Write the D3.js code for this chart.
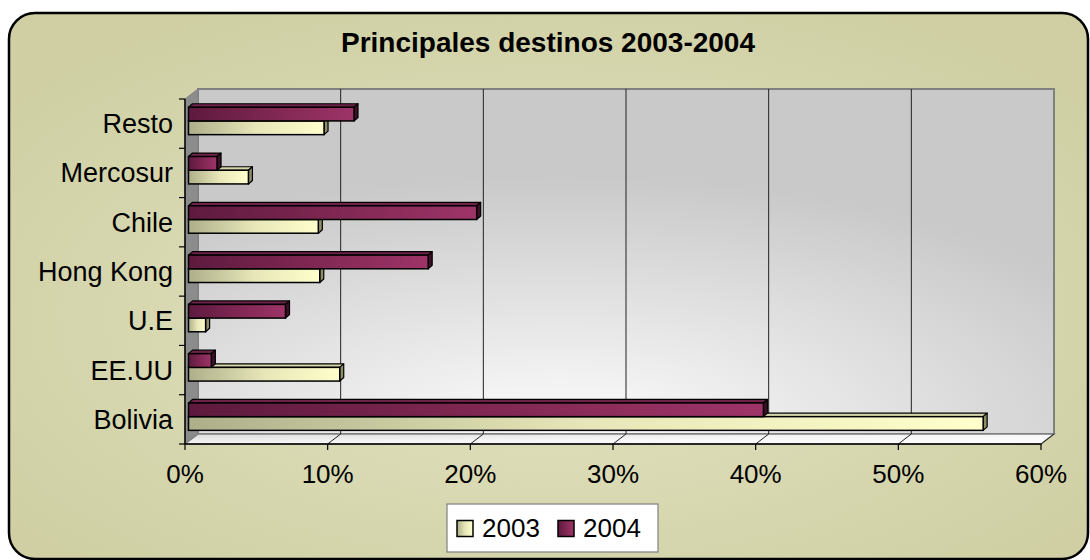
<!DOCTYPE html>
<html>
<head>
<meta charset="utf-8">
<script src="https://cdnjs.cloudflare.com/ajax/libs/d3/7.8.5/d3.min.js"></script>
<style>
  body { margin: 0; background: #fff; }
  svg { display: block; font-family: Arial, "Liberation Sans", sans-serif; }
</style>
</head>
<body>
<svg width="1090" height="560"></svg>
<script>
// data, top to bottom as in the chart
var categories = ['Resto', 'Mercosur', 'Chile', 'Hong Kong', 'U.E', 'EE.UU', 'Bolivia'];
var series = ['2003', '2004'];
var values2003 = [0.095, 0.042, 0.091, 0.092, 0.012, 0.106, 0.557];
var values2004 = [0.116, 0.020, 0.202, 0.168, 0.068, 0.016, 0.403];
var xTicks = [0, 0.1, 0.2, 0.3, 0.4, 0.5, 0.6];

var svg = d3.select('svg');
var defs = svg.append('defs');

// 3d frame geometry
var front = { left: 185, top: 99, bottom: 444, right: 1041 };
var depth = { dx: 13, dy: -10 };
var barOff = { dx: 3.5, dy: -2.7 };
var barDepth = { dx: 4, dy: -3.5 };

var xFront = d3.scaleLinear().domain([0, 0.6]).range([front.left, front.right]);
var xBack = d3.scaleLinear().domain([0, 0.6]).range([front.left + depth.dx, front.right + depth.dx]);
var xBar = d3.scaleLinear().domain([0, 0.6]).range([front.left + barOff.dx, front.right + barOff.dx]);

var y = d3.scaleBand().domain(categories).range([front.top, front.bottom])
  .paddingInner(0.444).paddingOuter(0.222);
var yInner = d3.scaleBand().domain(['2004', '2003']).range([0, y.bandwidth()]);
var step = y.step();

// gradients
function linGrad(id, stops, x2, y2) {
  var g = defs.append('linearGradient').attr('id', id)
    .attr('x1', 0).attr('y1', 0).attr('x2', x2 || 1).attr('y2', y2 || 0);
  stops.forEach(function(s) {
    g.append('stop').attr('offset', s[0]).attr('stop-color', s[1]);
  });
}
var bg = defs.append('radialGradient').attr('id', 'bg')
  .attr('cx', '50%').attr('cy', '55%').attr('r', '65%');
bg.append('stop').attr('offset', 0).attr('stop-color', '#e3e3c3');
bg.append('stop').attr('offset', 1).attr('stop-color', '#cfcfa3');

var wall = defs.append('radialGradient').attr('id', 'wall')
  .attr('cx', '42%').attr('cy', '100%').attr('r', '75%');
wall.append('stop').attr('offset', 0).attr('stop-color', '#fdfdfd');
wall.append('stop').attr('offset', 1).attr('stop-color', '#c9c9c9');

linGrad('floor', [[0, '#dcdcdc'], [0.5, '#f6f6f6'], [1, '#ffffff']], 0, 1);
linGrad('g2003', [[0, '#aeae8a'], [0.5, '#e6e6b8'], [1, '#ffffcc']]);
linGrad('g2004', [[0, '#5e1a3e'], [0.5, '#7f2752'], [1, '#9e3468']]);

var colors = {
  '2003': { front: 'url(#g2003)', top: '#d6d6a8', side: '#8e8e66' },
  '2004': { front: 'url(#g2004)', top: '#6e2248', side: '#3e0f28' }
};

// background with rounded frame
svg.append('rect')
  .attr('x', 9).attr('y', 13).attr('width', 1079).attr('height', 546)
  .attr('rx', 26).attr('ry', 26)
  .attr('fill', 'url(#bg)').attr('stroke', '#000').attr('stroke-width', 2.5);

svg.append('text')
  .attr('x', 548).attr('y', 52)
  .attr('text-anchor', 'middle')
  .attr('font-size', 28).attr('font-weight', 'bold')
  .text('Principales destinos 2003-2004');

var plot = svg.append('g');

// back wall
plot.append('rect')
  .attr('x', xBack(0)).attr('y', front.top + depth.dy)
  .attr('width', xBack(0.6) - xBack(0)).attr('height', front.bottom - front.top)
  .attr('fill', 'url(#wall)').attr('stroke', '#808080').attr('stroke-width', 2);

// side wall
plot.append('polygon')
  .attr('points', [
    [front.left, front.top], [front.left + depth.dx, front.top + depth.dy],
    [front.left + depth.dx, front.bottom + depth.dy], [front.left, front.bottom]
  ].join(' '))
  .attr('fill', '#8c8c8c').attr('stroke', '#808080');

// floor
plot.append('polygon')
  .attr('points', [
    [xFront(0), front.bottom], [xBack(0), front.bottom + depth.dy],
    [xBack(0.6), front.bottom + depth.dy], [xFront(0.6), front.bottom]
  ].join(' '))
  .attr('fill', 'url(#floor)').attr('stroke', '#808080').attr('stroke-width', 1.5);

// gridlines on wall and floor
var inner = xTicks.filter(function(t) { return t > 0 && t < 0.6; });
plot.selectAll('.grid').data(inner).enter().append('line')
  .attr('x1', function(d) { return xBack(d); }).attr('x2', function(d) { return xBack(d); })
  .attr('y1', front.top + depth.dy).attr('y2', front.bottom + depth.dy)
  .attr('stroke', '#222').attr('stroke-width', 1);
plot.selectAll('.floorgrid').data(xTicks.filter(function(t) { return t > 0; })).enter().append('line')
  .attr('x1', function(d) { return xFront(d); }).attr('y1', front.bottom)
  .attr('x2', function(d) { return xBack(d); }).attr('y2', front.bottom + depth.dy)
  .attr('stroke', '#222').attr('stroke-width', 1);

// bars
var rows = [];
categories.forEach(function(c, i) {
  rows.push({ cat: c, s: '2003', v: values2003[i] });
  rows.push({ cat: c, s: '2004', v: values2004[i] });
});

var bars = plot.selectAll('.bar').data(rows).enter().append('g').attr('class', 'bar');

bars.each(function(d) {
  var g = d3.select(this);
  var x0 = xBar(0), x1 = xBar(d.v);
  var y0 = y(d.cat) + yInner(d.s) + barOff.dy;
  var h = yInner.bandwidth();
  var c = colors[d.s];
  // top face
  g.append('polygon')
    .attr('points', [[x0, y0], [x0 + barDepth.dx, y0 + barDepth.dy],
      [x1 + barDepth.dx, y0 + barDepth.dy], [x1, y0]].join(' '))
    .attr('fill', c.top).attr('stroke', '#000').attr('stroke-width', 1.2)
    .attr('stroke-linejoin', 'round');
  // end face
  g.append('polygon')
    .attr('points', [[x1, y0], [x1 + barDepth.dx, y0 + barDepth.dy],
      [x1 + barDepth.dx, y0 + h + barDepth.dy], [x1, y0 + h]].join(' '))
    .attr('fill', c.side).attr('stroke', '#000').attr('stroke-width', 1.2)
    .attr('stroke-linejoin', 'round');
  // front face
  g.append('rect')
    .attr('x', x0).attr('y', y0).attr('width', x1 - x0).attr('height', h)
    .attr('fill', c.front).attr('stroke', '#000').attr('stroke-width', 1.5);
});

// axes
var axis = svg.append('g');
axis.append('line')
  .attr('x1', front.left).attr('x2', front.left)
  .attr('y1', front.top).attr('y2', front.bottom)
  .attr('stroke', '#000').attr('stroke-width', 1.5);
axis.append('line')
  .attr('x1', xFront(0)).attr('x2', xFront(0.6))
  .attr('y1', front.bottom).attr('y2', front.bottom)
  .attr('stroke', '#000').attr('stroke-width', 1.5);

var catTicks = d3.range(categories.length + 1).map(function(i) { return front.top + i * step; });
axis.selectAll('.ytick').data(catTicks).enter().append('line')
  .attr('x1', front.left - 6).attr('x2', front.left)
  .attr('y1', function(d) { return d; }).attr('y2', function(d) { return d; })
  .attr('stroke', '#000').attr('stroke-width', 1.2);
axis.selectAll('.xtick').data(xTicks).enter().append('line')
  .attr('x1', function(d) { return xFront(d); }).attr('x2', function(d) { return xFront(d); })
  .attr('y1', front.bottom).attr('y2', front.bottom + 6)
  .attr('stroke', '#000').attr('stroke-width', 1.2);

axis.selectAll('.ylab').data(categories).enter().append('text')
  .attr('x', 173)
  .attr('y', function(d) { return y(d) + y.bandwidth() / 2; })
  .attr('dy', '0.35em')
  .attr('text-anchor', 'end').attr('font-size', 27)
  .text(function(d) { return d; });

axis.selectAll('.xlab').data(xTicks).enter().append('text')
  .attr('x', function(d) { return xFront(d); })
  .attr('y', 483)
  .attr('text-anchor', 'middle').attr('font-size', 26)
  .text(function(d) { return d3.format('.0%')(d); });

// legend
var legend = svg.append('g');
legend.append('rect')
  .attr('x', 447).attr('y', 504).attr('width', 211).attr('height', 48)
  .attr('fill', '#fff').attr('stroke', '#808080').attr('stroke-width', 1.2);
var lx = { '2003': 457, '2004': 558 };
series.forEach(function(s) {
  legend.append('rect')
    .attr('x', lx[s]).attr('y', 520.5).attr('width', 16).attr('height', 16)
    .attr('fill', colors[s].front).attr('stroke', '#000').attr('stroke-width', 1.5);
  legend.append('text')
    .attr('x', lx[s] + 25).attr('y', 537)
    .attr('font-size', 26)
    .text(s);
});
</script>
</body>
</html>
